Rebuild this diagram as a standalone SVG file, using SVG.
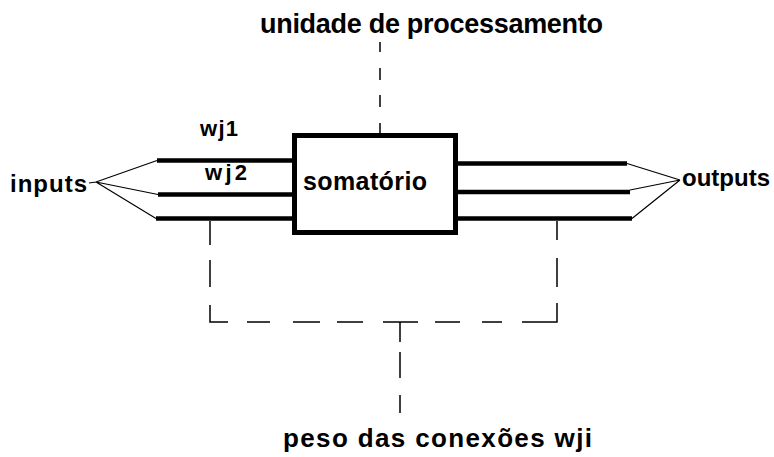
<svg xmlns="http://www.w3.org/2000/svg" width="774" height="457" viewBox="0 0 774 457">
  <style>
    .lbl { font-family: "Liberation Sans", Arial, sans-serif; font-weight: bold; fill: #000; }
    .thick { stroke: #000; stroke-width: 4.5; fill: none; }
    .thin { stroke: #000; stroke-width: 1.2; fill: none; }
    .dash { stroke: #000; stroke-width: 1.5; fill: none; }
  </style>
  <rect width="774" height="457" fill="#fff"/>

  <!-- processing unit box -->
  <g id="somatorio">
    <rect x="294.5" y="135.5" width="161" height="97" fill="#fff" stroke="#000" stroke-width="5"/>
    <text class="lbl" x="303" y="190" font-size="25" textLength="124">somatório</text>
  </g>

  <g id="inputs">
    <text class="lbl" x="10" y="192" font-size="24" textLength="77">inputs</text>
  </g>

  <g id="outputs">
    <text class="lbl" x="682" y="186" font-size="24" textLength="88">outputs</text>
  </g>

  <g id="unidade">
    <text class="lbl" x="260" y="33" font-size="27" textLength="343">unidade de processamento</text>
  </g>

  <g id="peso">
    <text class="lbl" x="283" y="447" font-size="26" textLength="309">peso das conexões wji</text>
  </g>

  <g id="weights">
    <text class="lbl" x="200" y="136" font-size="22" textLength="38">wj1</text>
    <text class="lbl" x="205" y="180" font-size="22" textLength="42">wj2</text>
  </g>

  <g id="connectors">
    <!-- weighted input connections -->
    <path class="thick" d="M157,160.5 H292 M158,194.5 H292 M156,218.5 H292"/>
    <!-- output connections -->
    <path class="thick" d="M458,163.5 H627 M458,192 H630 M458,218.5 H632"/>
    <!-- fan-in / fan-out -->
    <path class="thin" d="M89,183 L96,182 L157,160.5 M96,182 L158,194.5 M96,182 L156,218.5"/>
    <path class="thin" d="M627,163.5 L680,180 M630,190 L680,180 M632,218.5 L680,180"/>
    <!-- annotation leaders -->
    <path class="dash" d="M380,42 V52 M380,68 V80 M380,95 V107 M380,123 V133"/>
    <path class="dash" d="M210,221 V245 M210,260 V287 M210,305 V322 H228 M247,322 H270 M293,322 H320 M337,322 H363 M383,322 H418 M435,322 H460 M482,322 H502 M522,322 H557 V303 M557,287 V258 M557,240 V221"/>
    <path class="dash" d="M400,322 V342 M400,352 V378 M400,395 V413"/>
  </g>
</svg>
